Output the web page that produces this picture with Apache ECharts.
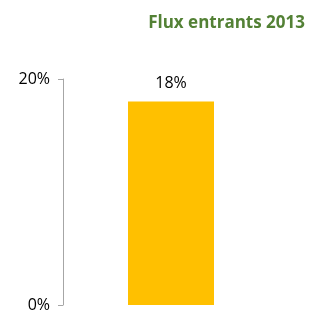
<!DOCTYPE html>
<html>
<head>
<meta charset="utf-8">
<script src="https://cdn.jsdelivr.net/npm/echarts@6/dist/echarts.min.js"></script>
<style>
  html, body { margin: 0; padding: 0; background: #fff; }
  #main { width: 313px; height: 313px; }
</style>
</head>
<body>
<div id="main"></div>
<script>
// données du graphique
var categories = ['Flux entrants 2013'];
var values = [18];
var yTicks = [0, 20];

var chart = echarts.init(document.getElementById('main'));

var option = {
    animation: false,
    title: {
        text: 'Flux entrants 2013',
        right: 3,
        top: 10,
        textStyle: {
            color: '#538135',
            fontFamily: 'Open Sans',
            fontWeight: 'bold',
            fontSize: 17
        }
    },
    grid: {
        left: 63,
        right: 34,
        top: 79,
        bottom: 8
    },
    xAxis: {
        type: 'category',
        data: categories,
        show: false
    },
    yAxis: {
        type: 'value',
        min: yTicks[0],
        max: yTicks[1],
        interval: 20,
        axisLine: { show: true, lineStyle: { color: '#A6A6A6', width: 1 } },
        axisTick: { show: true, length: 5, lineStyle: { color: '#A6A6A6' } },
        splitLine: { show: false },
        axisLabel: {
            formatter: '{value}%',
            margin: 13,
            color: '#000',
            fontFamily: 'Open Sans',
            fontSize: 16
        }
    },
    series: [{
        type: 'bar',
        data: values,
        barWidth: 86,
        itemStyle: { color: '#FFC000' },
        label: {
            show: true,
            position: 'top',
            distance: 10,
            formatter: '{c}%',
            color: '#000',
            fontFamily: 'Open Sans',
            fontSize: 16
        }
    }]
};
chart.setOption(option);
</script>
</body>
</html>
